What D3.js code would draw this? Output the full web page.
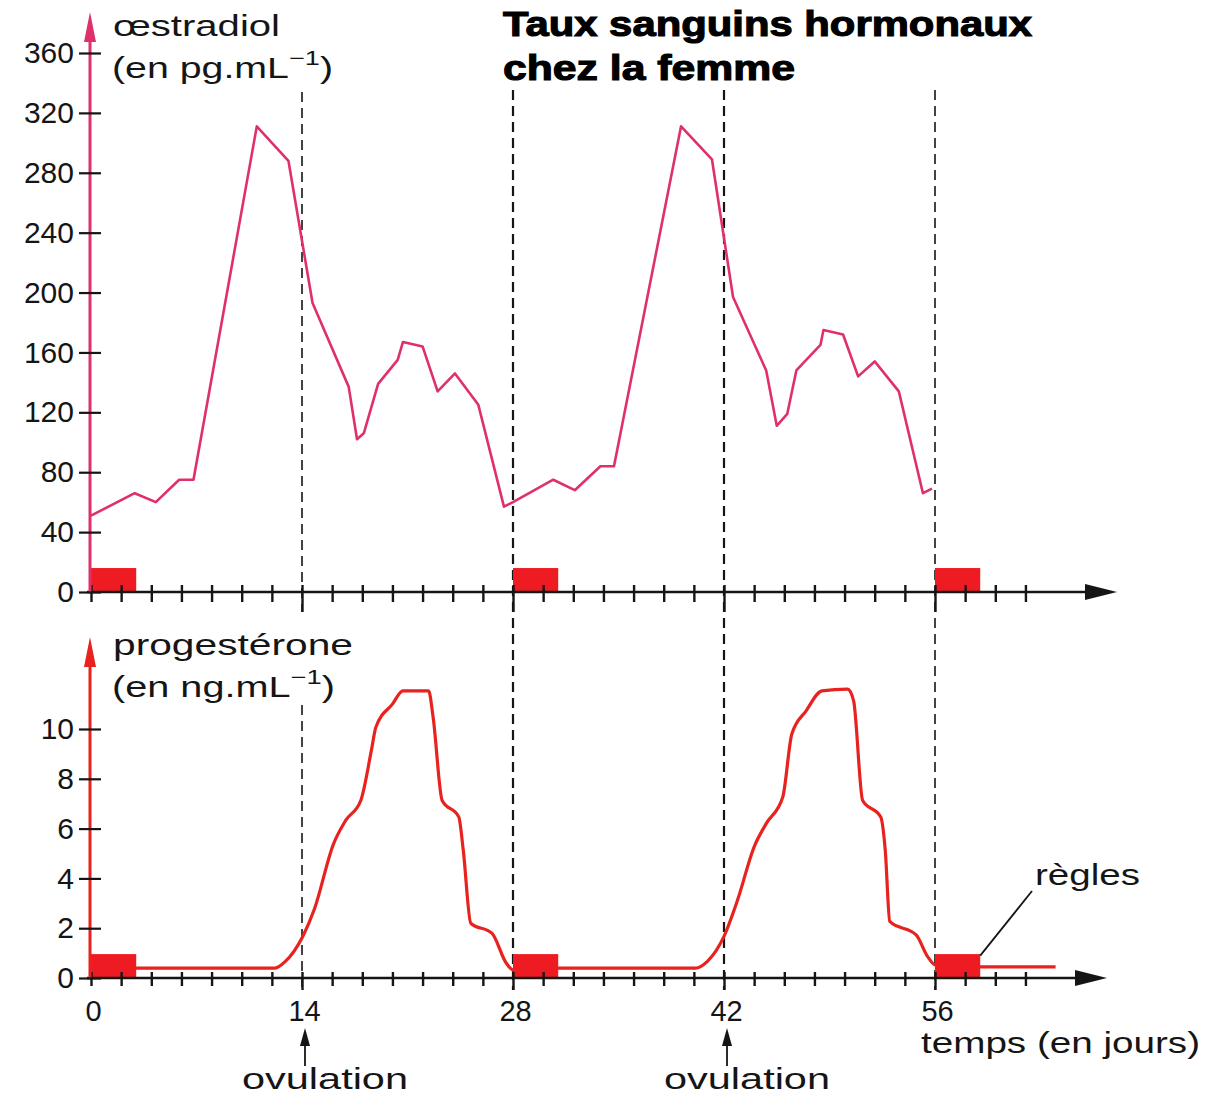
<!DOCTYPE html>
<html>
<head>
<meta charset="utf-8">
<script src="https://cdn.jsdelivr.net/npm/d3@7"></script>
<style>
  body { margin: 0; background: #ffffff; }
  text { font-family: "Liberation Sans", Arial, sans-serif; fill: #151515; }
</style>
</head>
<body>
<svg id="chart" width="1214" height="1097"></svg>
<script>
// ---- Time axis (days) ----
const dayTicks = d3.range(0, 64, 2);
const dayLabels = [0, 14, 28, 42, 56];
const cycleMarks = [14, 28, 42, 56];
const ovulationDays = [14, 42];
const periodStarts = [0, 28, 56];
const periodLength = 3;

// ---- Oestradiol (pg/mL) ----
const oestradiolTicks = [0, 40, 80, 120, 160, 200, 240, 280, 320, 360];
const oestradiolDays = [0, 2.9, 4.3, 5.85, 6.8, 11.0, 13.1, 14.7, 17.1, 17.65, 18.1, 19.05, 20.35, 20.7, 22.0, 23.0, 24.15, 25.7, 27.4, 28.0,
                        30.67, 32.1, 33.8, 34.7, 39.15, 41.2, 42.6, 44.8, 45.5, 46.2, 46.8, 48.4, 48.6, 49.9, 50.9, 52.0, 53.6, 55.2, 55.8];
const oestradiolValues = [51, 66, 60, 75, 75, 311, 288, 193, 137, 102, 106, 139, 155, 167, 164, 134, 146, 125, 57, 60,
                          75, 68, 84, 84, 311, 289, 197, 148, 111, 119, 148, 165, 175, 172, 144, 154, 134, 66, 69];

// ---- Progesterone (ng/mL) ----
const progesteroneTicks = [0, 2, 4, 6, 8, 10];
const progesteroneDays = [0, 3, 12.2, 12.9, 14.05, 14.8, 16.1, 16.9, 17.9, 18.6, 18.9, 20.0, 20.7, 22.4, 22.7, 23.3, 24.4, 24.7, 25.2, 26.6, 27.55, 28.0,
                          30.8, 40.1, 40.9, 42.0, 42.9, 44.0, 44.8, 45.9, 46.5, 47.45, 48.5, 50.2, 50.6, 51.2, 52.4, 52.7, 53.0, 54.75, 55.5, 56.0, 59, 64];
const progesteroneValues = [0.4, 0.4, 0.4, 0.67, 1.67, 2.73, 5.4, 6.33, 7.13, 9.13, 10.07, 11.0, 11.53, 11.53, 10.47, 7.13, 6.47, 5.13, 2.2, 1.8, 0.6, 0.33,
                            0.4, 0.4, 0.67, 1.67, 3.13, 5.27, 6.2, 7.27, 9.8, 10.73, 11.53, 11.6, 11.13, 7.13, 6.47, 5.13, 2.27, 1.73, 0.87, 0.53, 0.45, 0.45];

// ---- Scales ----
const x  = d3.scaleLinear().domain([0, 56]).range([91, 935]);
const yO = d3.scaleLinear().domain([0, 360]).range([592, 53]);
const yP = d3.scaleLinear().domain([0, 10]).range([978, 729]);

const svg = d3.select("#chart");
const ink = "#151515";
const pink = "#e0306c";
const red = "#e8221f";
const periodRed = "#ee1c22";
const FS = 29;
const SANS = "Liberation Sans, Arial, sans-serif";

// Dashed markers for ovulation and cycle boundaries
const dashG = svg.append("g").attr("stroke", ink).attr("stroke-dasharray", "10,6").attr("fill", "none");
cycleMarks.forEach(d => {
  const segs = d === 14 ? [[92, 612], [705, 990]] : [[90, 990]];
  segs.forEach(([a, b]) => {
    dashG.append("line").attr("x1", x(d)).attr("x2", x(d)).attr("y1", a).attr("y2", b)
      .attr("stroke-width", (d === 28 || d === 42) ? 2.2 : 1.6);
  });
});

// Oestradiol curve
const lineO = d3.line().x((d, i) => x(oestradiolDays[i])).y(d => yO(d));
svg.append("path").datum(oestradiolValues).attr("d", lineO)
  .attr("fill", "none").attr("stroke", pink).attr("stroke-width", 2.6).attr("stroke-linejoin", "round");

// Progesterone curve
const lineP = d3.line().x((d, i) => x(progesteroneDays[i])).y(d => yP(d)).curve(d3.curveMonotoneX);
svg.append("path").datum(progesteroneValues).attr("d", lineP)
  .attr("fill", "none").attr("stroke", red).attr("stroke-width", 3.2).attr("stroke-linejoin", "round");

// Menstruation blocks
periodStarts.forEach(d => {
  svg.append("rect").attr("x", x(d)).attr("width", x(d + periodLength) - x(d))
    .attr("y", yO(16)).attr("height", yO(0) - yO(16)).attr("fill", periodRed);
  svg.append("rect").attr("x", x(d)).attr("width", x(d + periodLength) - x(d))
    .attr("y", yP(0.96)).attr("height", yP(0) - yP(0.96)).attr("fill", periodRed);
});

// Horizontal day axes with arrows
function dayAxis(yPos, endX, up, minorDown, majorDown) {
  svg.append("line").attr("x1", x(0) - 4).attr("x2", endX - 20).attr("y1", yPos).attr("y2", yPos)
    .attr("stroke", ink).attr("stroke-width", 2.6);
  svg.append("path").attr("d", `M${endX},${yPos} L${endX - 32},${yPos - 8} L${endX - 32},${yPos + 8} Z`).attr("fill", ink);
  const g = svg.append("g").attr("transform", `translate(0,${yPos})`)
    .call(d3.axisBottom(x).tickValues(dayTicks).tickSize(minorDown).tickFormat(""));
  g.select(".domain").remove();
  g.selectAll(".tick line")
    .attr("y1", -up)
    .attr("y2", d => cycleMarks.includes(d) ? majorDown : minorDown)
    .attr("stroke", ink).attr("stroke-width", 2.4);
  return g;
}
dayAxis(yO(0), 1117, 7, 10, 20);
dayAxis(yP(0), 1107, 6, 8, 12);

// Day labels under the lower axis
const lab = svg.append("g").attr("transform", `translate(2,${yP(0)})`)
  .call(d3.axisBottom(x).tickValues(dayLabels).tickSize(0).tickPadding(22));
lab.select(".domain").remove();
lab.selectAll(".tick text").attr("font-size", FS).attr("font-family", SANS).attr("fill", ink);

// Vertical axes
function valueAxis(scale, ticks, color, topY) {
  svg.append("line").attr("x1", x(0) - 1).attr("x2", x(0) - 1).attr("y1", scale(0) + 1).attr("y2", topY + 26)
    .attr("stroke", color).attr("stroke-width", 3);
  svg.append("path").attr("d", `M${x(0) - 1},${topY} L${x(0) - 7},${topY + 30} L${x(0) + 5},${topY + 30} Z`).attr("fill", color);
  const g = svg.append("g").attr("transform", `translate(${x(0) - 1},0)`)
    .call(d3.axisLeft(scale).tickValues(ticks).tickSize(11).tickPadding(5));
  g.select(".domain").remove();
  g.selectAll(".tick line").attr("x1", 11).attr("stroke", ink).attr("stroke-width", 2.2);
  g.selectAll(".tick text").attr("font-size", 30).attr("font-family", SANS).attr("fill", ink);
}
valueAxis(yO, oestradiolTicks, pink, 12);
valueAxis(yP, progesteroneTicks, red, 637);

// Axis titles
function unitLabel(xp, yp, unit, width) {
  const t = svg.append("text").attr("x", xp).attr("y", yp).attr("font-size", FS)
    .attr("textLength", width).attr("lengthAdjust", "spacingAndGlyphs");
  t.append("tspan").text(unit);
  t.append("tspan").attr("dy", -13).attr("font-size", 20).text("−1");
  t.append("tspan").attr("dy", 13).text(")");
}
svg.append("text").attr("x", 113).attr("y", 36).attr("font-size", FS)
  .attr("textLength", 167).attr("lengthAdjust", "spacingAndGlyphs").text("œstradiol");
unitLabel(112, 78, "(en pg.mL", 221);
svg.append("text").attr("x", 113).attr("y", 655).attr("font-size", FS)
  .attr("textLength", 240).attr("lengthAdjust", "spacingAndGlyphs").text("progestérone");
unitLabel(112, 697, "(en ng.mL", 223);

// Title
const titleLines = [["Taux sanguins hormonaux", 36, 529], ["chez la femme", 80, 292]];
titleLines.forEach(([s, yp, w]) => {
  svg.append("text").attr("x", 503).attr("y", yp).attr("font-size", 35).attr("font-weight", "bold")
    .attr("font-family", "DejaVu Sans, sans-serif").attr("stroke", "#000").attr("stroke-width", 1.1)
    .style("fill", "#000")
    .attr("textLength", w).attr("lengthAdjust", "spacingAndGlyphs").text(s);
});

// Time axis title
svg.append("text").attr("x", 921).attr("y", 1053).attr("font-size", FS)
  .attr("textLength", 279).attr("lengthAdjust", "spacingAndGlyphs").text("temps (en jours)");

// Ovulation arrows
ovulationDays.forEach(d => {
  const cx = x(d) + 3;
  svg.append("path").attr("d", `M${cx},1028 L${cx - 5},1046 L${cx + 5},1046 Z`).attr("fill", ink);
  svg.append("line").attr("x1", cx).attr("x2", cx).attr("y1", 1044).attr("y2", 1066).attr("stroke", ink).attr("stroke-width", 1.8);
  svg.append("text").attr("x", x(d) - 60).attr("y", 1089).attr("font-size", FS)
    .attr("textLength", 166).attr("lengthAdjust", "spacingAndGlyphs").text("ovulation");
});

// "règles" callout
svg.append("text").attr("x", 1035).attr("y", 885).attr("font-size", FS)
  .attr("textLength", 105).attr("lengthAdjust", "spacingAndGlyphs").text("règles");
svg.append("line").attr("x1", 1032).attr("y1", 891).attr("x2", x(59)).attr("y2", yP(0.9))
  .attr("stroke", ink).attr("stroke-width", 1.8);
</script>
</body>
</html>
